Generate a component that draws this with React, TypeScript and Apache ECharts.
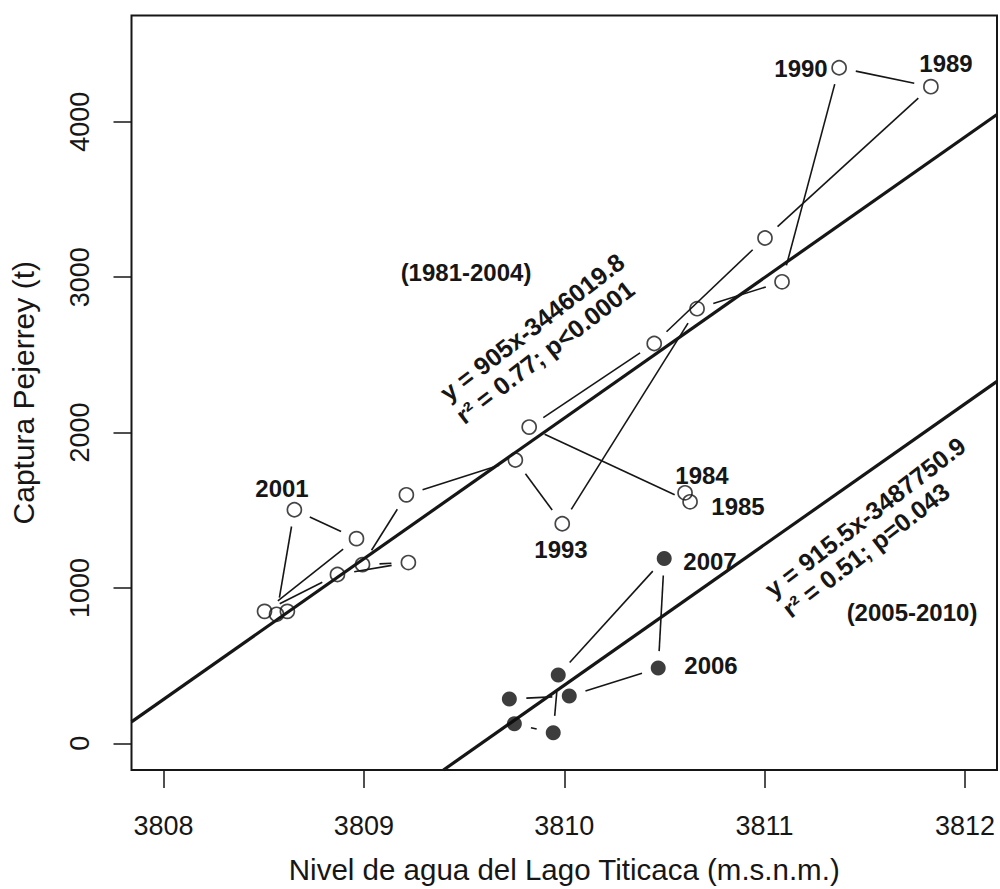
import React, { useEffect, useRef } from "react";
import * as echarts from "echarts";

// 1981-2004 period (open circles), chronological order
const openYears = [1984, 1985, 1986, 1987, 1988, 1989, 1990, 1991, 1992, 1993, 1994, 1995, 1996, 1997, 1998, 1999, 2000, 2001, 2002, 2003];
const openLevel = [3810.603, 3810.628, 3809.825, 3810.449, 3811.002, 3811.83, 3811.372, 3811.087, 3810.663, 3809.99, 3809.756, 3809.212, 3808.993, 3809.222, 3808.868, 3808.504, 3808.963, 3808.653, 3808.564, 3808.618];
const openCatch = [1612, 1554, 2035, 2573, 3252, 4226, 4348, 2970, 2797, 1413, 1823, 1599, 1150, 1163, 1086, 849, 1317, 1503, 830, 849];

// 2005-2010 period (filled circles), chronological order
const filledYears = [2004, 2005, 2006, 2007, 2008, 2009, 2010];
const filledLevel = [3809.726, 3810.025, 3810.469, 3810.499, 3809.97, 3809.945, 3809.751];
const filledCatch = [285, 304, 484, 1189, 439, 67, 125];

// regression lines (end points as drawn)
const fitOldLevel = [3807.84, 3812.16];
const fitOldCatch = [138, 4047];
const fitNewLevel = [3809.397, 3812.16];
const fitNewCatch = [-172, 2329];

const xTicks = [3808, 3809, 3810, 3811, 3812];
const yTicks = [0, 1000, 2000, 3000, 4000];
const xRange = [3807.84, 3812.16];
const yRange = [-172, 4684];

const INK = "#161616";
const GAP = 17;
const FONT = "'Liberation Sans', Arial, Helvetica, sans-serif";

function segments(xs: number[], ys: number[]) {
  const out: number[][] = [];
  for (let i = 0; i < xs.length - 1; i++) out.push([xs[i], ys[i], xs[i + 1], ys[i + 1]]);
  return out;
}

function gapRender(params: any, api: any) {
  const p1 = api.coord([api.value(0), api.value(1)]);
  const p2 = api.coord([api.value(2), api.value(3)]);
  const dx = p2[0] - p1[0];
  const dy = p2[1] - p1[1];
  const len = Math.hypot(dx, dy);
  if (len <= 2 * GAP) return { type: "group", children: [] };
  const ux = dx / len;
  const uy = dy / len;
  return {
    type: "line",
    shape: { x1: p1[0] + ux * GAP, y1: p1[1] + uy * GAP, x2: p2[0] - ux * GAP, y2: p2[1] - uy * GAP },
    style: { stroke: INK, lineWidth: 1.6 },
  };
}

function label(text: string, x: number, y: number, size = 24, rotDeg = 0) {
  return {
    type: "text",
    x,
    y,
    rotation: (rotDeg * Math.PI) / 180,
    z: 100,
    style: {
      text,
      fill: INK,
      font: `bold ${size}px ${FONT}`,
      textAlign: "center",
      textVerticalAlign: "middle",
    },
  };
}

export default function App() {
  const ref = useRef<HTMLDivElement>(null);
  useEffect(() => {
    if (!ref.current) return;
    const chart = echarts.init(ref.current, null, { renderer: "svg" });
    const rot = 37.5;
    chart.setOption({
      animation: false,
      backgroundColor: "#ffffff",
      grid: {
        left: 131.5,
        right: 3,
        top: 15.5,
        bottom: 115.5,
        show: true,
        borderColor: INK,
        borderWidth: 2,
        backgroundColor: "transparent",
      },
      xAxis: {
        type: "value",
        min: xRange[0],
        max: xRange[1],
        name: "Nivel de agua del Lago Titicaca (m.s.n.m.)",
        nameLocation: "middle",
        nameGap: 84,
        nameTextStyle: { fontSize: 29.5, color: INK, fontFamily: FONT },
        axisLine: { show: false, onZero: false },
        splitLine: { show: false },
        axisTick: { show: true, inside: false, length: 18, customValues: xTicks, lineStyle: { color: INK, width: 1.5 } },
        axisLabel: { customValues: xTicks, fontSize: 27, color: INK, fontFamily: FONT, margin: 42, formatter: (v: number) => String(v) },
      },
      yAxis: {
        type: "value",
        min: yRange[0],
        max: yRange[1],
        name: "Captura Pejerrey (t)",
        nameLocation: "middle",
        nameGap: 93,
        nameRotate: 90,
        nameTextStyle: { fontSize: 30, color: INK, fontFamily: FONT },
        axisLine: { show: false, onZero: false },
        splitLine: { show: false },
        axisTick: { show: true, inside: false, length: 18, customValues: yTicks, lineStyle: { color: INK, width: 1.5 } },
        axisLabel: { customValues: yTicks, rotate: 90, fontSize: 27, color: INK, fontFamily: FONT, margin: 38, formatter: (v: number) => String(v) },
      },
      series: [
        {
          type: "line",
          data: fitOldLevel.map((x, i) => [x, fitOldCatch[i]]),
          symbol: "none",
          lineStyle: { color: INK, width: 3.2 },
          z: 2,
        },
        {
          type: "line",
          data: fitNewLevel.map((x, i) => [x, fitNewCatch[i]]),
          symbol: "none",
          lineStyle: { color: INK, width: 3.2 },
          z: 2,
        },
        {
          type: "custom",
          renderItem: gapRender,
          data: segments(openLevel, openCatch),
          encode: { x: [0, 2], y: [1, 3] },
          z: 3,
        },
        {
          type: "custom",
          renderItem: gapRender,
          data: segments(filledLevel, filledCatch),
          encode: { x: [0, 2], y: [1, 3] },
          z: 3,
        },
        {
          type: "scatter",
          name: "1981-2004",
          data: openLevel.map((x, i) => [x, openCatch[i], openYears[i]]),
          symbol: "circle",
          symbolSize: 14,
          itemStyle: { color: "rgba(0,0,0,0)", borderColor: INK, borderWidth: 1.7 },
          z: 4,
        },
        {
          type: "scatter",
          name: "2005-2010",
          data: filledLevel.map((x, i) => [x, filledCatch[i], filledYears[i]]),
          symbol: "circle",
          symbolSize: 15,
          itemStyle: { color: "#0d0d0d" },
          z: 4,
        },
      ],
      graphic: [
        label("2001", 282, 488),
        label("1984", 702, 475),
        label("1985", 738, 506),
        label("1993", 561, 549),
        label("2007", 710, 561),
        label("2006", 711, 665),
        label("1990", 801, 68),
        label("1989", 946, 63),
        label("(1981-2004)", 466, 272),
        label("(2005-2010)", 912, 612),
        label("y = 905x-3446019.8", 532, 327, 25, rot),
        label("r² = 0.77; p<0.0001", 545, 352, 25, rot),
        label("y = 915.5x-3487750.9", 865, 517, 25, rot),
        label("r² = 0.51; p=0.043", 866, 550, 25, rot),
      ],
    });
    return () => chart.dispose();
  }, []);
  return (
    <div
      ref={ref}
      style={{ position: "absolute", left: 0, top: 0, width: 1000, height: 889, background: "#fff" }}
    />
  );
}
